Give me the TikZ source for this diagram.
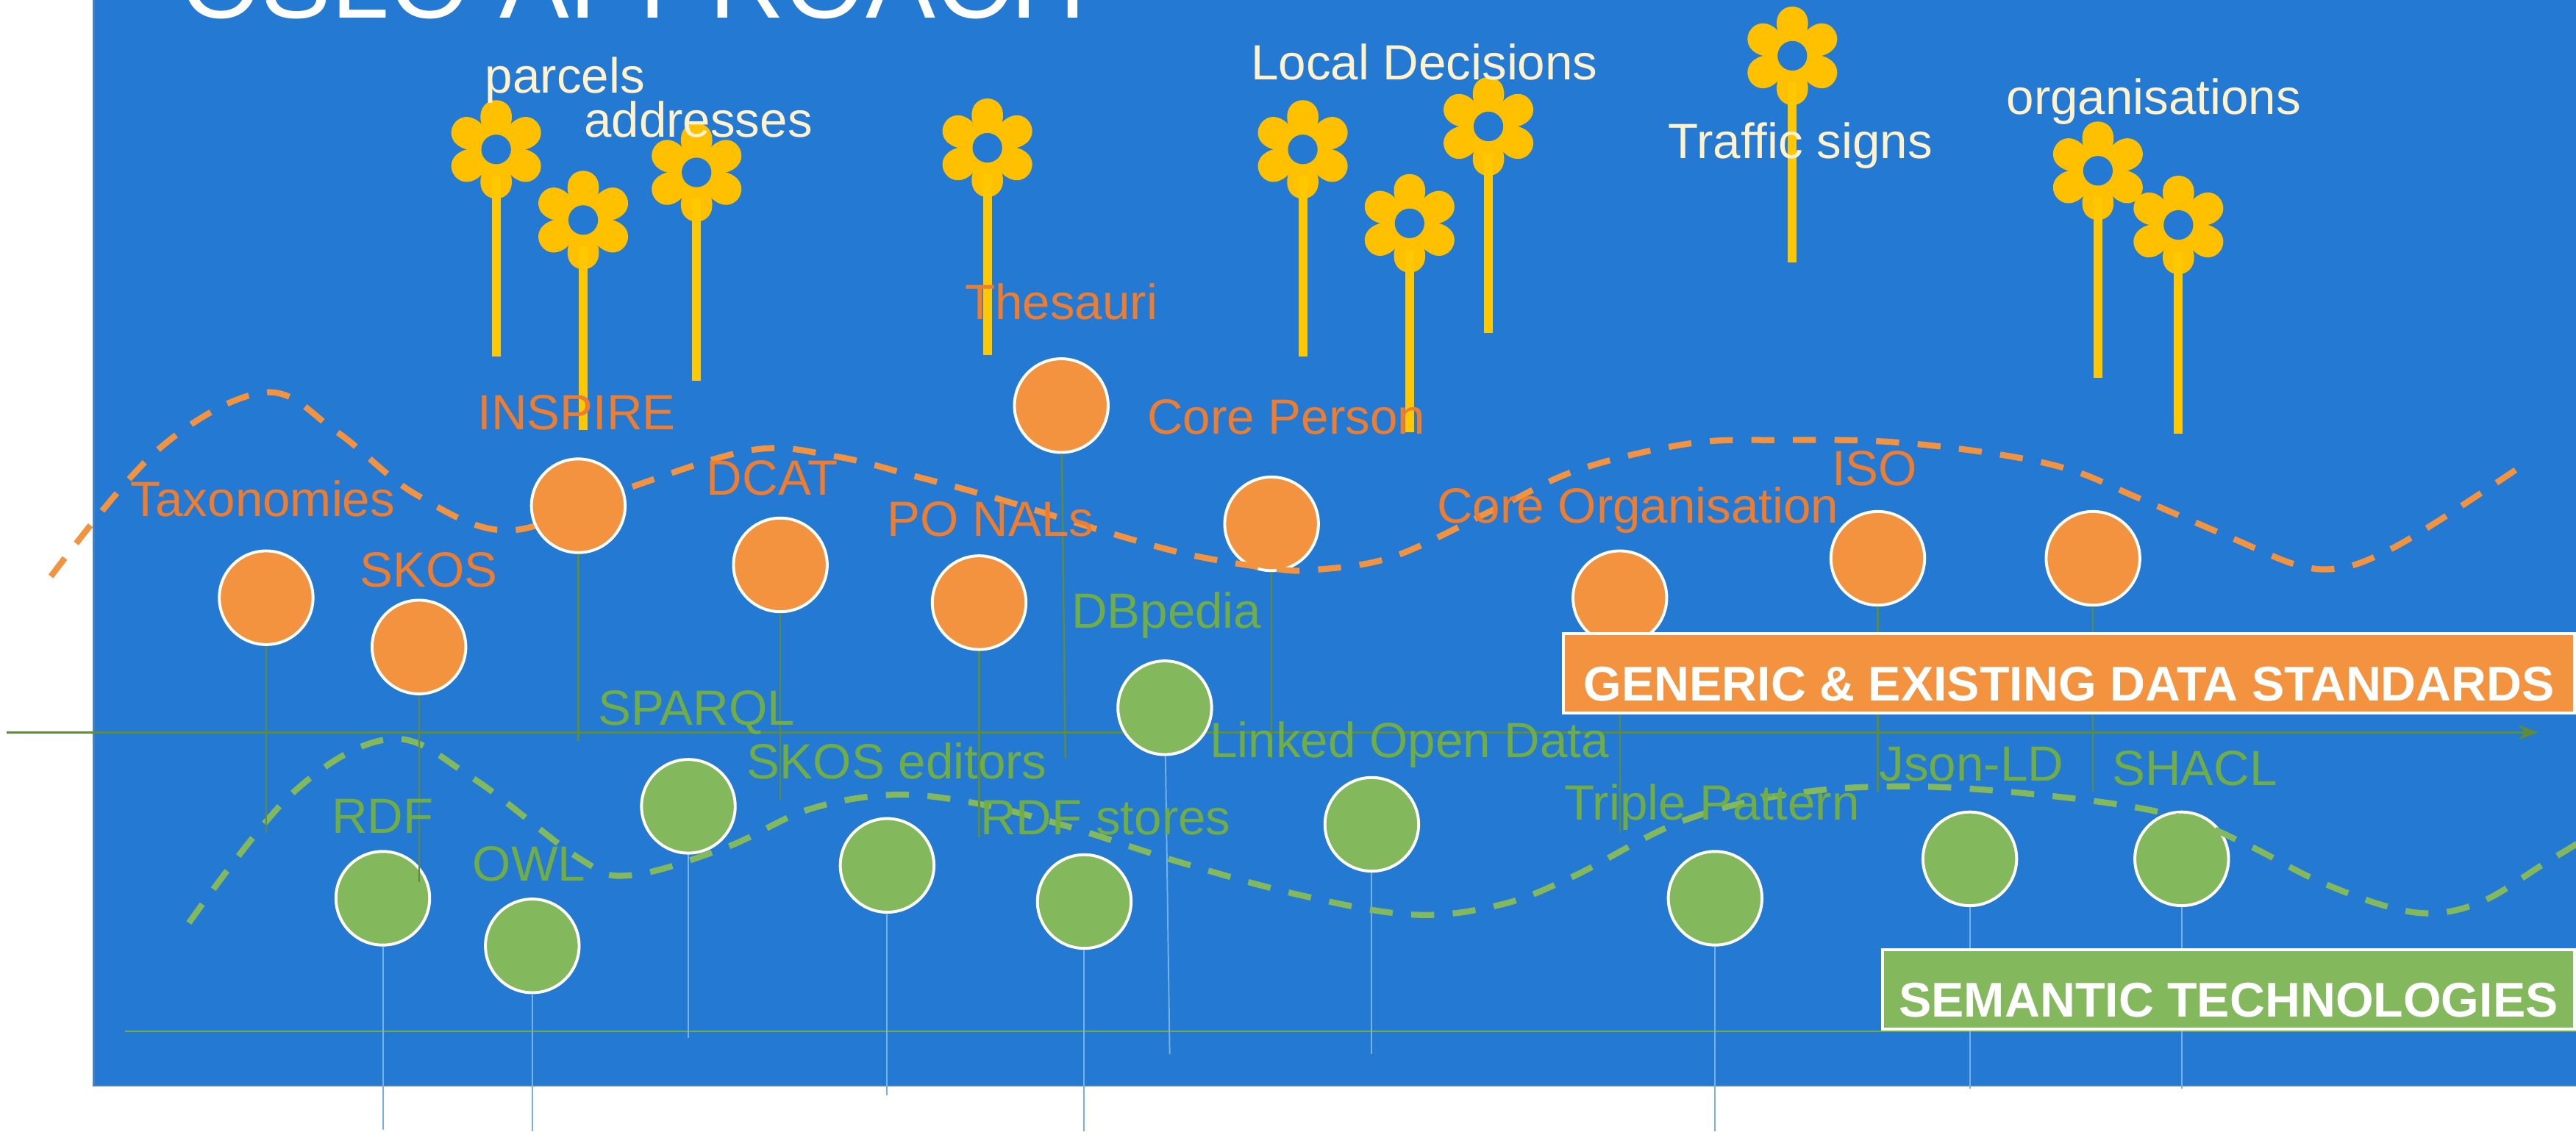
\documentclass[tikz,border=0pt]{standalone}
\usepackage{fontspec}
\setmainfont{Liberation Sans}
\usetikzlibrary{positioning, arrows.meta}
\definecolor{slideblue}{HTML}{2479D3}
\definecolor{slideedge}{HTML}{4A80B8}
\definecolor{dotorange}{HTML}{F39340}
\definecolor{textorange}{HTML}{ED7D31}
\definecolor{dotgreen}{HTML}{84B85C}
\definecolor{textgreen}{HTML}{70AD47}
\definecolor{axisgreen}{HTML}{5F8C36}
\definecolor{stemblue}{HTML}{73B1E6}
\definecolor{petal}{HTML}{FFC000}
\definecolor{stalk}{HTML}{FFC800}
\definecolor{cream}{HTML}{FFF2CC}
\newcommand{\petalpath}{(-4,6) .. controls (-7,11) and (-10,15) .. (-9.5,21) .. controls (-9,27) and (-4.5,30) .. (0,30) .. controls (4.5,30) and (9,27) .. (9.5,21) .. controls (10,15) and (7,11) .. (4,6) -- cycle}
\tikzset{dot/.style = {circle, draw=white, line width=0.5pt, minimum size=0.57cm, inner sep=0pt}}
\tikzset{orangedot/.style = {dot, fill=dotorange}}
\tikzset{greendot/.style = {dot, fill=dotgreen}}
\tikzset{tagtext/.style = {inner sep=0pt, yshift=-0.43pt, text height=0.72em, text depth=0.21em, font=\fontsize{8.57}{10}\selectfont}}
\tikzset{creamtag/.style = {tagtext, text=cream}}
\tikzset{orangetag/.style = {tagtext, text=textorange}}
\tikzset{greentag/.style = {tagtext, text=textgreen}}
\tikzset{banner/.style = {draw=white, line width=0.5pt, minimum height=0.48cm, inner sep=0pt, text=white, text height=9.5pt, text depth=0pt, font=\fontsize{8.45}{10}\selectfont\bfseries}}
\tikzset{orangestem/.style = {axisgreen, line width=0.3pt}}
\tikzset{greenstem/.style = {stemblue, line width=0.25pt}}
\tikzset{flowerstem/.style = {stalk, line width=1.53pt}}
\tikzset{wave/.style = {line width=1.05pt, dash pattern=on 0.14cm off 0.113cm}}
\tikzset{
    flower/.pic = {
        \fill [petal] (0,0) circle [radius=0.13cm];
        \fill [petal] \petalpath;
        \fill [petal, rotate=60] \petalpath;
        \fill [petal, rotate=120] \petalpath;
        \fill [petal, rotate=180] \petalpath;
        \fill [petal, rotate=240] \petalpath;
        \fill [petal, rotate=300] \petalpath;
        \fill [slideblue] (0,0) circle [radius=0.09cm];
        \coordinate (-top) at (0,16);
    }
}

\begin{document}
\begin{tikzpicture}[x=0.01cm, y=-0.01cm]
    \useasboundingbox (0,0) rectangle (1568,689);
    \filldraw [fill=slideblue, draw=slideedge, line width=0.3pt] (57,-5) rectangle (1573,661);

    \node [anchor=base west, inner sep=0pt, text=white, font=\fontsize{18.1}{20}\selectfont] (title) at (109,11) {OSLO APPROACH};

    \pic (f1) at (302,91) {flower};
    \pic (f2) at (355,134) {flower};
    \pic (f3) at (424,105) {flower};
    \pic (f4) at (601,90) {flower};
    \pic (f5) at (793,91) {flower};
    \pic (f6) at (858,136) {flower};
    \pic (f7) at (906,77) {flower};
    \pic (f8) at (1091,34) {flower};
    \pic (f9) at (1277,104) {flower};
    \pic (f10) at (1326,137) {flower};

    \coordinate (f1end) at (302,217);
    \coordinate (f2end) at (355,262);
    \coordinate (f3end) at (424,232);
    \coordinate (f4end) at (601,216);
    \coordinate (f5end) at (793,217);
    \coordinate (f6end) at (858,263);
    \coordinate (f7end) at (906,203);
    \coordinate (f8end) at (1091,160);
    \coordinate (f9end) at (1277,230);
    \coordinate (f10end) at (1326,264);

    \draw [flowerstem] (f1-top) -- (f1end);
    \draw [flowerstem] (f2-top) -- (f2end);
    \draw [flowerstem] (f3-top) -- (f3end);
    \draw [flowerstem] (f4-top) -- (f4end);
    \draw [flowerstem] (f5-top) -- (f5end);
    \draw [flowerstem] (f6-top) -- (f6end);
    \draw [flowerstem] (f7-top) -- (f7end);
    \draw [flowerstem] (f8-top) -- (f8end);
    \draw [flowerstem] (f9-top) -- (f9end);
    \draw [flowerstem] (f10-top) -- (f10end);

    \coordinate (upperstart) at (4,446);
    \coordinate (upperend) at (1545,446);
    \coordinate (lowerstart) at (76,628);
    \coordinate (lowerend) at (1568,628);
    \draw [axisgreen, line width=0.42pt, -{Stealth[length=0.12cm, width=0.09cm]}] (upperstart) -- (upperend);
    \draw [textgreen, line width=0.3pt] (lowerstart) -- (lowerend);

    \node [greendot] (rdf) at (233,547) {};
    \node [greendot] (owl) at (324,576) {};
    \node [greendot] (sparql) at (419,491) {};
    \node [greendot] (skosed) at (540,527) {};
    \node [greendot] (stores) at (660,549) {};
    \node [greendot] (dbpedia) at (709,431) {};
    \node [greendot] (lod) at (835,502) {};
    \node [greendot] (triple) at (1044,547) {};
    \node [greendot] (json) at (1199,523) {};
    \node [greendot] (shacl) at (1328,523) {};

    \coordinate (rdfend) at (233,688);
    \coordinate (owlend) at (324,689);
    \coordinate (sparqlend) at (419,632);
    \coordinate (skosedend) at (540,667);
    \coordinate (storesend) at (660,689);
    \coordinate (dbpediaend) at (712,642);
    \coordinate (lodend) at (835,642);
    \coordinate (tripleend) at (1044,689);
    \coordinate (jsonend) at (1199,663);
    \coordinate (shaclend) at (1328,663);

    \draw [greenstem] (rdf) -- (rdfend);
    \draw [greenstem] (owl) -- (owlend);
    \draw [greenstem] (sparql) -- (sparqlend);
    \draw [greenstem] (skosed) -- (skosedend);
    \draw [greenstem] (stores) -- (storesend);
    \draw [greenstem] (dbpedia) -- (dbpediaend);
    \draw [greenstem] (lod) -- (lodend);
    \draw [greenstem] (triple) -- (tripleend);
    \draw [greenstem] (json) -- (jsonend);
    \draw [greenstem] (shacl) -- (shaclend);

    \node [orangedot] (person) at (774,319) {};

    \draw [wave, dotgreen] plot [smooth, tension=0.6] coordinates {(115,562) (178,483) (238,450) (288,474) (353,523) (384,533) (442,516) (492,493) (543,484) (593,489) (649,503) (718,525) (791,545) (860,557) (913,551) (957,534) (1024,500) (1093,483) (1170,479) (1260,486) (1325,497) (1367,514) (1410,536) (1453,552) (1483,556) (1513,548) (1547,527) (1570,513)};
    \draw [wave, dotorange] plot [smooth, tension=0.6] coordinates {(31,351) (96,274) (161,239) (205,263) (253,301) (310,323) (380,298) (458,274) (509,278) (557,290) (605,303) (677,325) (725,338) (773,346) (800,347) (848,339) (910,310) (961,286) (1029,270) (1085,268) (1149,269) (1212,276) (1260,286) (1301,303) (1357,327) (1398,344) (1424,346) (1450,337) (1483,318) (1539,281)};

    \node [orangedot] (taxo) at (162,364) {};
    \node [orangedot] (skos) at (255,394) {};
    \node [orangedot] (inspire) at (352,308) {};
    \node [orangedot] (dcat) at (475,344) {};
    \node [orangedot] (ponal) at (596,367) {};
    \node [orangedot] (thes) at (646,247) {};
    \node [orangedot] (org) at (986,364) {};
    \node [orangedot] (iso) at (1143,340) {};
    \node [orangedot] (other) at (1274,340) {};

    \coordinate (taxoend) at (162,507);
    \coordinate (skosend) at (255,537);
    \coordinate (inspireend) at (352,451);
    \coordinate (dcatend) at (475,487);
    \coordinate (ponalend) at (596,510);
    \coordinate (thesend) at (648.5,462);
    \coordinate (personend) at (774,462);
    \coordinate (orgend) at (986,507);
    \coordinate (isoend) at (1143,482);
    \coordinate (otherend) at (1274,482);

    \draw [orangestem] (taxo) -- (taxoend);
    \draw [orangestem] (skos) -- (skosend);
    \draw [orangestem] (inspire) -- (inspireend);
    \draw [orangestem] (dcat) -- (dcatend);
    \draw [orangestem] (ponal) -- (ponalend);
    \draw [orangestem] (thes) -- (thesend);
    \draw [orangestem] (person) -- (personend);
    \draw [orangestem] (org) -- (orgend);
    \draw [orangestem] (iso) -- (isoend);
    \draw [orangestem] (other) -- (otherend);

    \node [banner, fill=dotorange, minimum width=6.15cm] (generic) at (1259.5,410) {GENERIC \& EXISTING DATA STANDARDS};
    \node [banner, fill=dotgreen, minimum width=4.21cm] (semantic) at (1356.5,602.5) {SEMANTIC TECHNOLOGIES};

    \node [creamtag] (parcels) at (344,46) {parcels};
    \node [creamtag] (addresses) at (425,73) {addresses};
    \node [creamtag] (local) at (867,38) {Local Decisions};
    \node [creamtag] (traffic) at (1096,86) {Traffic signs};
    \node [creamtag] (organisations) at (1311,59) {organisations};

    \node [orangetag] (taxotag) at (160,304) {Taxonomies};
    \node [orangetag] (skostag) at (261,347) {SKOS};
    \node [orangetag] (inspiretag) at (351,251) {INSPIRE};
    \node [orangetag] (dcattag) at (470,291) {DCAT};
    \node [orangetag] (ponaltag) at (603,316) {PO NALs};
    \node [orangetag] (thestag) at (646,184) {Thesauri};
    \node [orangetag] (persontag) at (783,254) {Core Person};
    \node [orangetag] (orgtag) at (997,308) {Core Organisation};
    \node [orangetag] (isotag) at (1141,285) {ISO};

    \node [greentag] (dbpediatag) at (710,372) {DBpedia};
    \node [greentag] (sparqltag) at (424,431) {SPARQL};
    \node [greentag] (skosedtag) at (546,464) {SKOS editors};
    \node [greentag] (rdftag) at (233,497) {RDF};
    \node [greentag] (owltag) at (322,526) {OWL};
    \node [greentag] (storestag) at (673,498) {RDF stores};
    \node [greentag] (lodtag) at (858,451) {Linked Open Data};
    \node [greentag] (tripletag) at (1042,489) {Triple Pattern};
    \node [greentag] (jsontag) at (1200,465) {Json-LD};
    \node [greentag] (shacltag) at (1336,468) {SHACL};
\end{tikzpicture}
\end{document}
